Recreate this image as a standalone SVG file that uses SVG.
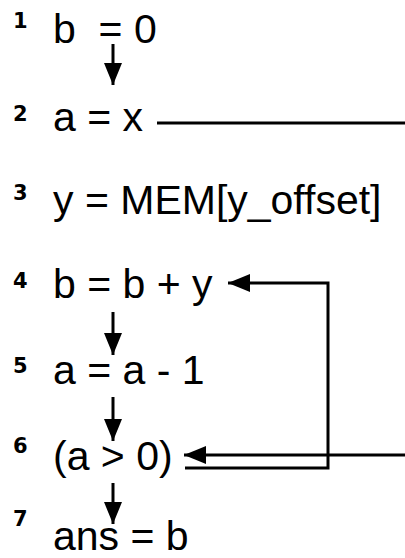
<svg xmlns="http://www.w3.org/2000/svg" width="405" height="558" viewBox="0 0 405 558">
  <style>
    .num { font-family: "DejaVu Sans", "Liberation Sans", sans-serif; font-weight: bold; font-size: 21px; fill: #000; }
    .code { font-family: "Liberation Sans", Arial, sans-serif; font-size: 41px; fill: #000; white-space: pre; }
    .wire { fill: none; stroke: #000; stroke-width: 3; }
  </style>
  <defs>
    <marker id="head" markerUnits="userSpaceOnUse" markerWidth="22" markerHeight="18" refX="22" refY="9" orient="auto">
      <path d="M0,0 L22,9 L0,18 Z" fill="#000"/>
    </marker>
  </defs>
  <rect width="405" height="558" fill="#fff"/>

  <g id="line1">
    <text class="num" x="13" y="28">1</text>
    <text class="code" x="53" y="43" xml:space="preserve">b  = 0</text>
  </g>
  <g id="line2">
    <text class="num" x="13" y="121">2</text>
    <text class="code" x="53" y="131">a = x</text>
  </g>
  <g id="line3">
    <text class="num" x="13" y="200">3</text>
    <text class="code" x="53" y="214">y = MEM[y_offset]</text>
  </g>
  <g id="line4">
    <text class="num" x="13" y="288">4</text>
    <text class="code" x="53" y="298">b = b + y</text>
  </g>
  <g id="line5">
    <text class="num" x="13" y="373">5</text>
    <text class="code" x="53" y="384">a = a - 1</text>
  </g>
  <g id="line6">
    <text class="num" x="13" y="453">6</text>
    <text class="code" x="53" y="470">(a &gt; 0)</text>
  </g>
  <g id="line7">
    <text class="num" x="13" y="526">7</text>
    <text class="code" x="53" y="550">ans = b</text>
  </g>

  <g id="connectors">
    <line class="wire" x1="113" y1="44" x2="113" y2="85" marker-end="url(#head)"/>
    <line class="wire" x1="157" y1="123" x2="405" y2="123"/>
    <line class="wire" x1="113" y1="312" x2="113" y2="355" marker-end="url(#head)"/>
    <line class="wire" x1="113" y1="397" x2="113" y2="441" marker-end="url(#head)"/>
    <line class="wire" x1="113" y1="483" x2="113" y2="524" marker-end="url(#head)"/>
    <line class="wire" x1="405" y1="455" x2="184" y2="455" marker-end="url(#head)"/>
    <polyline class="wire" points="185,468 328,468 328,283 228,283" marker-end="url(#head)"/>
  </g>
</svg>
